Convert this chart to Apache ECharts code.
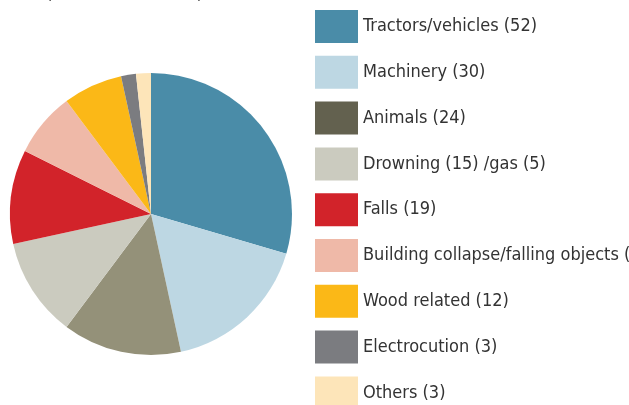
<!DOCTYPE html>
<html>
<head>
<meta charset="utf-8">
<script src="https://cdn.jsdelivr.net/npm/echarts@6/dist/echarts.min.js"></script>
<style>
  html, body { margin: 0; padding: 0; background: #fff; }
  #chart { width: 629px; height: 405px; }
</style>
</head>
<body>
<div id="chart"></div>
<script>
// causes, as written in the legend
const causes = [
  'Tractors/vehicles (52)',
  'Machinery (30)',
  'Animals (24)',
  'Drowning (15) /gas (5)',
  'Falls (19)',
  'Building collapse/falling objects (13)',
  'Wood related (12)',
  'Electrocution (3)',
  'Others (3)'
]
const deaths = [52, 30, 24, 20, 19, 13, 12, 3, 3]
const sliceColors = ['#4a8ca8', '#bdd7e3', '#949179', '#cbcbbf', '#d2232a', '#efb9a8', '#fbb817', '#7b7c80', '#fde5b9']
// the legend swatch for animals is darker than its slice
const legendColors = ['#4a8ca8', '#bdd7e3', '#63614f', '#cbcbbf', '#d2232a', '#efb9a8', '#fbb817', '#7b7c80', '#fde5b9']

const fontFamily = '"DejaVu Sans Condensed", "Liberation Sans Narrow", sans-serif'

const chart = echarts.init(document.getElementById('chart'))

chart.setOption({
  animation: false,
  title: {
    text: '(number of deaths)',
    left: 46,
    top: -15,
    padding: 0,
    textStyle: { fontFamily, fontSize: 18, fontWeight: 'normal', color: '#444' }
  },
  legend: {
    orient: 'vertical',
    left: 315,
    top: 10,
    height: 440,
    padding: 0,
    itemWidth: 43,
    itemHeight: 33,
    itemGap: 12.8,
    icon: 'rect',
    selectedMode: false,
    textStyle: { fontFamily, fontSize: 18, color: '#333' },
    data: causes.map((name, i) => ({ name, itemStyle: { color: legendColors[i] } }))
  },
  series: [
    {
      type: 'pie',
      center: [151, 214],
      radius: [0, 141],
      startAngle: 90,
      clockwise: true,
      silent: true,
      label: { show: false },
      labelLine: { show: false },
      itemStyle: { borderWidth: 0 },
      emphasis: { disabled: true },
      data: causes.map((name, i) => ({
        name,
        value: deaths[i],
        itemStyle: { color: sliceColors[i] }
      }))
    }
  ]
})
</script>
</body>
</html>
